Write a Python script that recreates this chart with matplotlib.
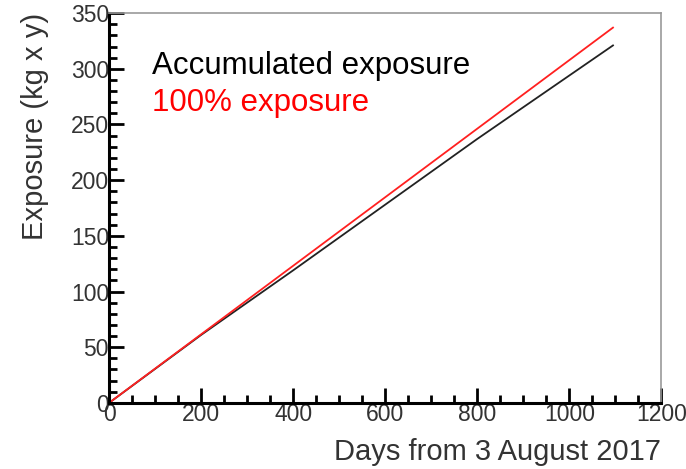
import numpy as np
import matplotlib.pyplot as plt
from matplotlib.ticker import MultipleLocator

plt.rcParams['font.family'] = ['Liberation Sans', 'DejaVu Sans']

# days since start, exposure in kg x y
days_acc = [0, 200, 400, 600, 800, 1095]
exp_acc = [0, 61, 119, 178, 237, 321]
days_full = [0, 1095]
exp_full = [0, 337]

fig = plt.figure(figsize=(6.86, 4.69), dpi=100)
ax = fig.add_axes([0.159, 0.141, 0.805, 0.831])

ax.plot(days_acc, exp_acc, color='#222222', lw=1.3)
ax.plot(days_full, exp_full, color='#ff2020', lw=1.3)

ax.set_xlim(0, 1200)
ax.set_ylim(0, 350)
ax.xaxis.set_major_locator(MultipleLocator(200))
ax.xaxis.set_minor_locator(MultipleLocator(50))
ax.yaxis.set_major_locator(MultipleLocator(50))
ax.yaxis.set_minor_locator(MultipleLocator(10))

ax.tick_params(which='both', direction='in', top=False, right=False,
               width=2, colors='black', labelsize=16.5, labelcolor='#333333')
ax.tick_params(which='major', length=11, pad=0)
ax.tick_params(which='minor', length=6)

for s in ['left', 'bottom']:
    ax.spines[s].set_linewidth(2.2)
for s in ['top', 'right']:
    ax.spines[s].set_color('#999999')
    ax.spines[s].set_linewidth(1.2)

ax.set_xlabel('Days from 3 August 2017', fontsize=21, color='#333333', loc='right', labelpad=9)
ax.set_ylabel('Exposure (kg x y)', fontsize=21, color='#333333', loc='top', labelpad=16)

ax.text(0.078, 0.845, 'Accumulated exposure', transform=ax.transAxes, fontsize=22.5, color='black')
ax.text(0.078, 0.75, '100% exposure', transform=ax.transAxes, fontsize=22.5, color='red')

fig.savefig('out.png', dpi=100)
